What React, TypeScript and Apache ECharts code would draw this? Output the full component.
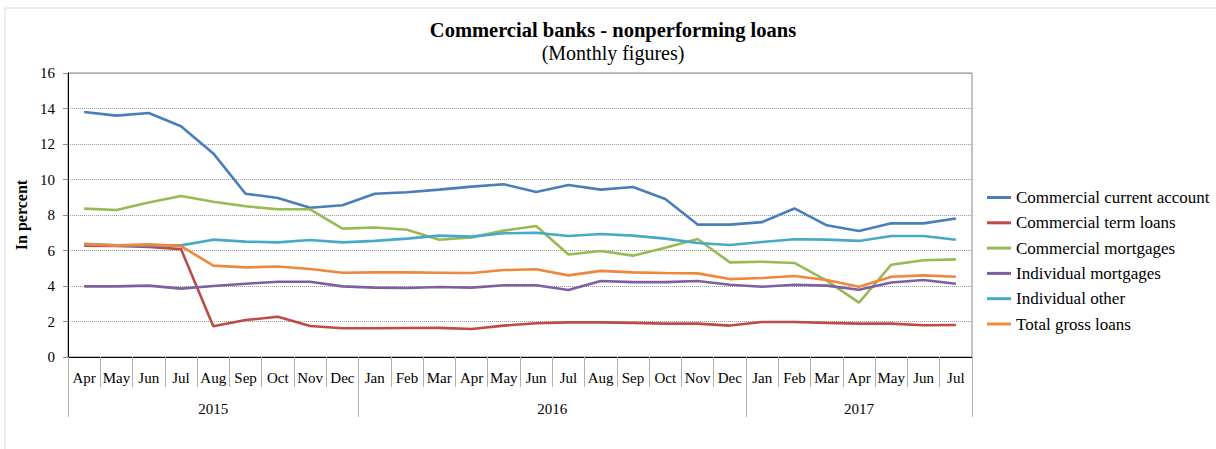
import React, { useEffect, useRef } from "react";
import * as echarts from "echarts";

const months = ["Apr","May","Jun","Jul","Aug","Sep","Oct","Nov","Dec","Jan","Feb","Mar","Apr","May","Jun","Jul","Aug","Sep","Oct","Nov","Dec","Jan","Feb","Mar","Apr","May","Jun","Jul"];
const yearLabels = ["2015", "2016", "2017"];
const yearMonthCounts = [9, 12, 7];
const yTicks = { min: 0, max: 16, interval: 2 };

const commercialCurrent = [13.8, 13.6, 13.75, 13.0, 11.47, 9.2, 8.96, 8.41, 8.55, 9.2, 9.28, 9.43, 9.6, 9.73, 9.3, 9.69, 9.43, 9.58, 8.9, 7.46, 7.46, 7.6, 8.37, 7.42, 7.1, 7.53, 7.53, 7.8];
const commercialTerm = [6.27, 6.25, 6.2, 6.08, 1.73, 2.08, 2.27, 1.75, 1.62, 1.62, 1.63, 1.64, 1.58, 1.77, 1.9, 1.95, 1.95, 1.92, 1.88, 1.88, 1.77, 1.97, 1.97, 1.92, 1.88, 1.88, 1.79, 1.8];
const commercialMortgages = [8.36, 8.28, 8.7, 9.07, 8.75, 8.49, 8.32, 8.32, 7.23, 7.3, 7.17, 6.61, 6.74, 7.12, 7.38, 5.77, 5.97, 5.71, 6.16, 6.65, 5.33, 5.37, 5.3, 4.3, 3.06, 5.2, 5.45, 5.5];
const individualMortgages = [3.98, 3.98, 4.02, 3.85, 4.0, 4.13, 4.24, 4.24, 3.98, 3.91, 3.89, 3.94, 3.91, 4.04, 4.04, 3.77, 4.28, 4.22, 4.22, 4.28, 4.07, 3.96, 4.07, 4.02, 3.79, 4.2, 4.34, 4.13];
const individualOther = [6.38, 6.29, 6.3, 6.29, 6.61, 6.5, 6.46, 6.59, 6.46, 6.54, 6.67, 6.84, 6.78, 6.97, 7.0, 6.82, 6.93, 6.84, 6.67, 6.42, 6.31, 6.48, 6.63, 6.61, 6.54, 6.82, 6.82, 6.61];
const totalGross = [6.35, 6.29, 6.35, 6.25, 5.15, 5.05, 5.1, 4.96, 4.75, 4.77, 4.77, 4.75, 4.73, 4.9, 4.94, 4.6, 4.85, 4.77, 4.73, 4.71, 4.39, 4.45, 4.56, 4.34, 3.96, 4.52, 4.6, 4.52];

const seriesNames = ["Commercial current account", "Commercial term loans", "Commercial mortgages", "Individual mortgages", "Individual other", "Total gross loans"];
const seriesData = [commercialCurrent, commercialTerm, commercialMortgages, individualMortgages, individualOther, totalGross];
const seriesColors = ["#4A7EBB", "#BE4B48", "#98B954", "#7D60A0", "#46AAC5", "#F0873A"];

const FONT = "'Liberation Serif', 'Times New Roman', serif";

export default function App() {
  const ref = useRef<HTMLDivElement>(null);
  useEffect(() => {
    if (!ref.current) return;
    const chart = echarts.init(ref.current, null, { renderer: "svg" });

    const boundaries: number[] = [0];
    const centers: number[] = [];
    let acc = 0;
    yearMonthCounts.forEach((n) => {
      centers.push(acc + n / 2);
      acc += n;
      boundaries.push(acc);
    });

    chart.setOption({
      animation: false,
      backgroundColor: "#ffffff",
      textStyle: { fontFamily: FONT },
      graphic: [
        { type: "rect", shape: { x: 5, y: 8, width: 1400, height: 600 }, style: { fill: "none", stroke: "#d9d9d9", lineWidth: 1 }, silent: true, z: -10 },
        { type: "text", x: 613, y: 30, style: { text: "Commercial banks - nonperforming loans", font: `bold 20.5px ${FONT}`, fill: "#000", textAlign: "center", textVerticalAlign: "middle" } },
        { type: "text", x: 613, y: 53, style: { text: "(Monthly figures)", font: `20px ${FONT}`, fill: "#000", textAlign: "center", textVerticalAlign: "middle" } },
      ],
      grid: { left: 68, top: 73, right: 244, bottom: 92, show: true, borderColor: "#888", borderWidth: 1, backgroundColor: "transparent" },
      legend: {
        orient: "vertical",
        left: 982,
        top: 184,
        itemWidth: 24,
        itemHeight: 3,
        itemGap: 8.3,
        icon: "rect",
        textStyle: { fontFamily: FONT, fontSize: 17, color: "#000", lineHeight: 17 },
        data: seriesNames,
      },
      xAxis: [
        {
          type: "category",
          data: months,
          boundaryGap: true,
          axisLine: { show: true, lineStyle: { color: "#000", width: 1 } },
          axisTick: { show: true, interval: 0, length: 30, lineStyle: { color: "#b0b0b0" } },
          axisLabel: { interval: 0, margin: 13, fontFamily: FONT, fontSize: 15, color: "#000" },
          splitLine: { show: false },
        },
        {
          type: "value",
          min: 0,
          max: months.length,
          position: "bottom",
          axisLine: { show: false },
          axisTick: { show: true, customValues: boundaries, length: 60, lineStyle: { color: "#b0b0b0" } },
          axisLabel: {
            show: true,
            customValues: centers,
            margin: 44,
            fontFamily: FONT,
            fontSize: 15,
            color: "#000",
            formatter: (v: number) => {
              const i = centers.findIndex((c) => Math.abs(c - v) < 1e-6);
              return i >= 0 ? yearLabels[i] : "";
            },
          },
          splitLine: { show: false },
        },
      ],
      yAxis: {
        type: "value",
        min: yTicks.min,
        max: yTicks.max,
        interval: yTicks.interval,
        name: "In percent",
        nameLocation: "middle",
        nameGap: 34,
        nameTextStyle: { fontFamily: FONT, fontSize: 16, fontWeight: "bold", color: "#000" },
        axisLine: { show: true, lineStyle: { color: "#000", width: 1 } },
        axisTick: { show: true, length: 5, lineStyle: { color: "#888" } },
        axisLabel: { margin: 13, fontFamily: FONT, fontSize: 15, color: "#000" },
        splitLine: { show: true, lineStyle: { type: "dotted", color: "#999", width: 1 } },
      },
      series: seriesNames.map((name, i) => ({
        name,
        type: "line",
        xAxisIndex: 0,
        data: seriesData[i],
        symbol: "none",
        lineStyle: { color: seriesColors[i], width: 2.6 },
        itemStyle: { color: seriesColors[i] },
      })),
    });
    return () => chart.dispose();
  }, []);

  return <div ref={ref} style={{ position: "fixed", left: 0, top: 0, width: 1216, height: 449 }} />;
}
